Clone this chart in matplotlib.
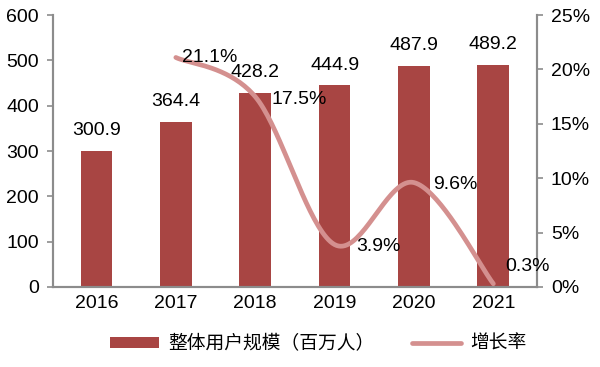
"""Overall user scale (bars) and growth rate (smoothed line), 2016-2021."""

import numpy as np
import matplotlib.pyplot as plt
from matplotlib.ticker import FuncFormatter

plt.rcParams["font.family"] = ["Liberation Sans", "Noto Sans CJK SC", "DejaVu Sans"]

YEARS = ["2016", "2017", "2018", "2019", "2020", "2021"]
USERS = [300.9, 364.4, 428.2, 444.9, 487.9, 489.2]
GROWTH_YEARS = ["2017", "2018", "2019", "2020", "2021"]
GROWTH = [21.1, 17.5, 3.9, 9.6, 0.3]

BAR_COLOR = "#A84543"
LINE_COLOR = "#D4908F"
AXIS_COLOR = "#8C8C8C"
FS = 14


def smooth(x, y, n=40, tension=1 / 6):
    """Excel-style smoothed line: cubic Bezier through each point."""
    x = np.asarray(x, float)
    y = np.asarray(y, float)
    xs, ys = [], []
    for i in range(len(x) - 1):
        p0 = (x[i - 1], y[i - 1]) if i > 0 else (x[i], y[i])
        p1 = (x[i], y[i])
        p2 = (x[i + 1], y[i + 1])
        p3 = (x[i + 2], y[i + 2]) if i + 2 < len(x) else p2
        c1 = (p1[0] + (p2[0] - p0[0]) * tension, p1[1] + (p2[1] - p0[1]) * tension)
        c2 = (p2[0] - (p3[0] - p1[0]) * tension, p2[1] - (p3[1] - p1[1]) * tension)
        t = np.linspace(0, 1, n)
        for k in range(2):
            pts = (1 - t) ** 3 * p1[k] + 3 * (1 - t) ** 2 * t * c1[k] + 3 * (1 - t) * t ** 2 * c2[k] + t ** 3 * p2[k]
            (xs if k == 0 else ys).append(pts)
    return np.concatenate(xs), np.concatenate(ys)


fig = plt.figure(figsize=(6.0, 3.67), dpi=100)
ax = fig.add_axes([0.088, 0.218, 0.807, 0.741])
ax2 = ax.twinx()

xpos = np.arange(len(YEARS))
ax.bar(xpos, USERS, width=0.4, color=BAR_COLOR, label="整体用户规模（百万人）", zorder=2)
for x, v in zip(xpos, USERS):
    ax.text(x, v + 26, f"{v:.1f}", ha="center", va="bottom", fontsize=FS)

gx = [YEARS.index(y) for y in GROWTH_YEARS]
sx, sy = smooth(gx, GROWTH)
ax2.plot(sx, sy, color=LINE_COLOR, lw=3.4, solid_capstyle="round", label="增长率", zorder=3)
offsets = {0: (0.08, 0.0), 1: (0.2, -0.3), 2: (0.27, -0.2), 3: (0.24, -0.2), 4: (0.15, 1.6)}
for i, (x, v) in enumerate(zip(gx, GROWTH)):
    dx, dy = offsets[i]
    ax2.text(x + dx, v + dy, f"{v:.1f}%", ha="left", va="center", fontsize=FS, zorder=4)

ax.set_xlim(-0.55, len(YEARS) - 0.45)
ax.set_ylim(0, 600)
ax.set_yticks(range(0, 601, 100))
ax2.set_ylim(0, 25)
ax2.set_yticks(range(0, 26, 5))
ax2.yaxis.set_major_formatter(FuncFormatter(lambda v, _: f"{v:.0f}%"))
ax.set_xticks(xpos)
ax.set_xticklabels(YEARS)

for a in (ax, ax2):
    a.spines["top"].set_visible(False)
    for s in ("left", "right", "bottom"):
        a.spines[s].set_color(AXIS_COLOR)
        a.spines[s].set_linewidth(1.5)
    a.tick_params(axis="y", colors=AXIS_COLOR, labelcolor="black", labelsize=FS, length=4, width=1.2, pad=6)
ax.tick_params(axis="x", length=0, labelsize=FS, pad=6)

h1, l1 = ax.get_legend_handles_labels()
h2, l2 = ax2.get_legend_handles_labels()
fig.legend(h1 + h2, l1 + l2, loc="lower center", bbox_to_anchor=(0.53, -0.01), ncol=2, frameon=False,
           prop={"family": ["Noto Sans CJK SC"], "size": 13.5}, handlelength=2.6, handleheight=0.55,
           handletextpad=0.5, columnspacing=2.0)

fig.savefig("out.png", dpi=100)
